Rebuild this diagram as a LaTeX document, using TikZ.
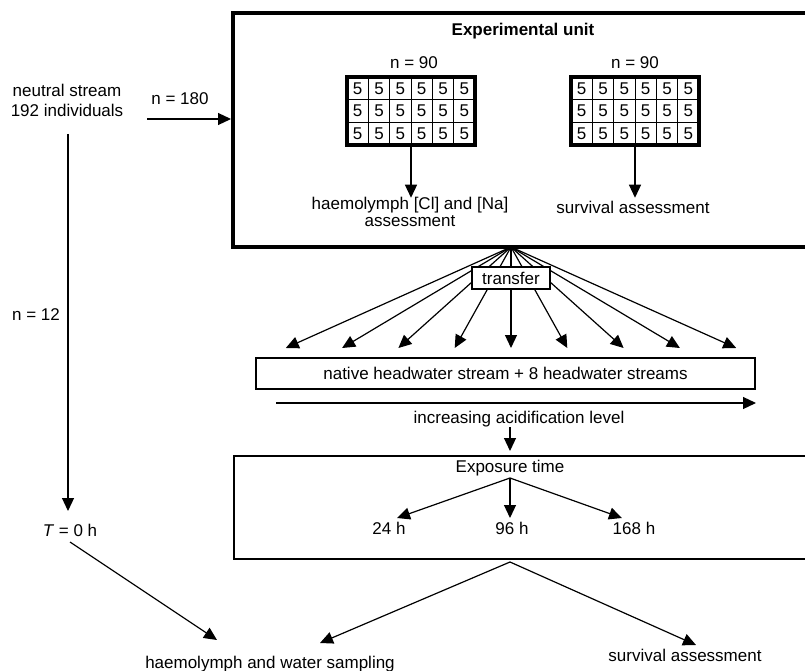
\documentclass[tikz,border=0pt]{standalone}
\usepackage{fontspec}
\setmainfont{Liberation Sans}
\usetikzlibrary{arrows.meta}
\begin{document}
\begin{tikzpicture}[x=1pt,y=-1pt,
  every node/.style={font=\fontsize{17}{20}\selectfont, inner sep=0pt},
  txt/.style={align=center},
  conn/.style={line width=1.2pt, -{Triangle[length=13pt,width=12pt]}},
  heavy/.style={line width=4pt},
  plain/.style={line width=1.3pt},
  gridbox/.style={draw, line width=3.5pt, minimum width=128pt, minimum height=68pt},
  cellnum/.style={font=\fontsize{17}{20}\selectfont},
  boxed/.style={draw, line width=1.3pt, fill=white}]
\useasboundingbox (0,0) rectangle (805,671);

% ---- Experimental unit frame (runs off the right edge)
\draw[heavy] (805,13) -- (233,13) -- (233,247) -- (805,247);
\node[font=\bfseries\fontsize{17}{20}\selectfont] (title) at (523,31) {Experimental unit};

% ---- grids
\node (n1) at (414,63) {n = 90};
\node (n2) at (635,63) {n = 90};
\foreach \gx/\nm in {347/g1, 571/g2}{
  \foreach \i in {1,...,5}
    \draw[line width=0.9pt] (\gx+\i*21.333,77) -- (\gx+\i*21.333,145);
  \foreach \j in {1,2}
    \draw[line width=1.4pt] (\gx,77+\j*22.667) -- (\gx+128,77+\j*22.667);
  \foreach \i in {0,...,5}
    \foreach \j in {0,1,2}
      \node[cellnum] at (\gx+10.667+\i*21.333,77+11.333+\j*22.667) {5};
  \node[gridbox] (\nm) at (\gx+64,111) {};
}

\node[txt] (h1) at (410,212) {haemolymph [Cl] and [Na]\\[-3pt]assessment};
\node (s1) at (633,207) {survival assessment};
\draw[conn] (g1.south) -- ++(0,51);
\draw[conn] (g2.south) -- ++(0,51);

% ---- left column
\node[txt] (src) at (67,100) {neutral stream\\192 individuals};
\node (n180) at (180,99) {n = 180};
\coordinate (a180s) at (147,119);
\coordinate (a180e) at (231,119);
\draw[conn] (a180s) -- (a180e);
\coordinate (vtop) at (68,134);
\node (t0) at (70,530) {\textit{T} = 0 h};
\draw[conn] (vtop) -- (68,511);
\node (n12) at (36,315) {n = 12};

% ---- transfer fan
\coordinate (apex) at (511,247);
\foreach \k in {-4,...,4}{
  \coordinate (tip\k) at (511+\k*56.3,348);
  \draw[conn] (apex) -- (tip\k);
}
\node[boxed, minimum width=78pt, minimum height=22pt] (transfer) at (511,278) {transfer};

% ---- headwater streams
\node[draw, line width=1.3pt, minimum width=499pt, minimum height=31pt] (hw) at (505.5,373.5)
  {native headwater stream + 8 headwater streams};
\coordinate (acs) at (276,403);
\coordinate (ace) at (756,403);
\draw[conn] (acs) -- (ace);
\node (inc) at (519,419) {increasing acidification level};
\coordinate (dtop) at (510,427);
\coordinate (dend) at (510,451);
\draw[conn] (dtop) -- (dend);

% ---- exposure box (runs off the right edge)
\draw[plain] (805,456) -- (234,456) -- (234,559) -- (805,559);
\node (exp) at (510,468) {Exposure time};
\coordinate (eb) at (510,478);
\node (h24) at (389,528) {24 h};
\node (h96) at (512,528) {96 h};
\node (h168) at (634,528) {168 h};
\draw[conn] (eb) -- (397,518);
\draw[conn] (eb) -- (510,518);
\draw[conn] (eb) -- (622,518);

% ---- outcomes
\coordinate (lb) at (510,562);
\node (hw2) at (270,664) {haemolymph and water sampling};
\node (sv2) at (685,655) {survival assessment};
\draw[conn] (lb) -- (320,643);
\draw[conn] (lb) -- (696,645);
\coordinate (t0s) at (70,542);
\draw[conn] (t0s) -- (217,640);
\end{tikzpicture}
\end{document}
